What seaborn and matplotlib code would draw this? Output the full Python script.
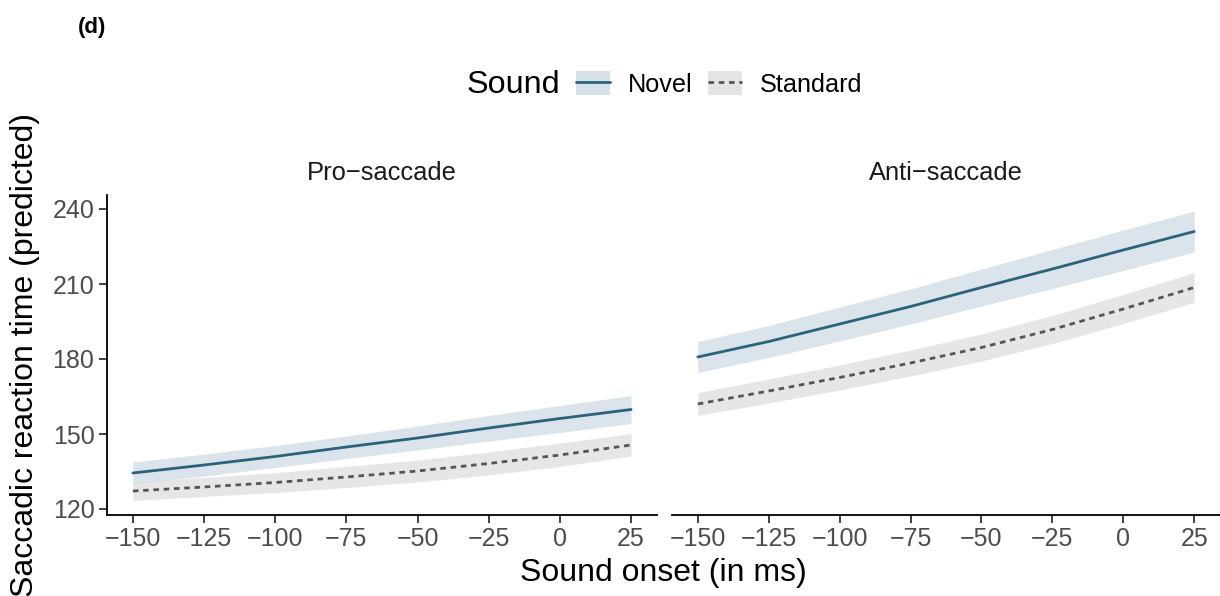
import pandas as pd
import seaborn as sns
import matplotlib.pyplot as plt
from matplotlib.patches import Patch
from matplotlib.lines import Line2D

# values
onset = [-150, -125, -100, -75, -50, -25, 0, 25]
tasks = ["Pro\u2212saccade", "Anti\u2212saccade"]

pro_novel = [134.4, 137.6, 141.0, 144.8, 148.4, 152.4, 156.2, 159.8]
pro_novel_lo = [130.0, 133.2, 136.6, 140.2, 143.6, 147.2, 150.6, 154.2]
pro_novel_hi = [138.8, 142.0, 145.4, 149.2, 153.2, 157.4, 161.4, 165.4]
pro_std = [127.2, 128.8, 130.6, 132.8, 135.2, 138.2, 141.6, 145.6]
pro_std_lo = [123.4, 125.0, 126.6, 128.6, 130.8, 133.6, 137.0, 141.2]
pro_std_hi = [131.0, 132.6, 134.6, 137.0, 139.6, 142.8, 146.4, 150.2]

anti_novel = [180.8, 187.0, 194.0, 201.0, 208.6, 216.0, 223.6, 231.0]
anti_novel_lo = [174.6, 180.6, 187.2, 194.0, 201.2, 208.2, 215.4, 222.8]
anti_novel_hi = [187.0, 193.4, 200.8, 208.0, 216.0, 223.8, 231.6, 239.2]
anti_std = [162.0, 167.2, 172.6, 178.4, 184.6, 191.8, 200.0, 208.6]
anti_std_lo = [157.4, 162.4, 167.6, 173.2, 179.2, 186.2, 194.2, 202.6]
anti_std_hi = [166.6, 172.0, 177.6, 183.6, 190.0, 197.4, 205.8, 214.6]

sounds = ["Novel", "Standard"]
line_colors = {"Novel": "#2b637c", "Standard": "#555555"}
fill_colors = {"Novel": "#d6e2e8", "Standard": "#e4e4e4"}

rows = []
panel_data = {
    tasks[0]: {"Novel": (pro_novel, pro_novel_lo, pro_novel_hi),
               "Standard": (pro_std, pro_std_lo, pro_std_hi)},
    tasks[1]: {"Novel": (anti_novel, anti_novel_lo, anti_novel_hi),
               "Standard": (anti_std, anti_std_lo, anti_std_hi)},
}
for task in tasks:
    for s in sounds:
        fit, lo, hi = panel_data[task][s]
        for x, f, l, h in zip(onset, fit, lo, hi):
            rows.append({"task": task, "Sound": s, "onset": x, "fit": f, "lo": l, "hi": h})
df = pd.DataFrame(rows)

sns.set_theme(style="ticks")
plt.rcParams["font.family"] = ["Liberation Sans", "DejaVu Sans"]
plt.rcParams["text.color"] = "black"

W, H = 1220, 596
fig = plt.figure(figsize=(W / 100, H / 100), dpi=100)
ax_l = fig.add_axes([107 / W, 1 - 515 / H, 550 / W, 320 / H])
ax_r = fig.add_axes([672 / W, 1 - 515 / H, 548 / W, 320 / H])

for ax, task in zip([ax_l, ax_r], tasks):
    sub = df[df["task"] == task]
    # ribbons first: standard then novel on top
    for s in ["Standard", "Novel"]:
        d = sub[sub["Sound"] == s]
        ax.fill_between(d["onset"], d["lo"], d["hi"], color=fill_colors[s],
                        alpha=0.9, lw=0)
    sns.lineplot(data=sub, x="onset", y="fit", hue="Sound", style="Sound",
                 palette=line_colors, dashes={"Novel": "", "Standard": (2.0, 1.7)},
                 linewidth=2.0, legend=False, ax=ax)
    ax.set_xlim(-159.1, 34.1)
    ax.set_ylim(117.6, 245.6)
    ax.set_xticks(onset)
    ax.set_yticks([120, 150, 180, 210, 240])
    ax.set_xlabel("")
    ax.set_ylabel("")
    ax.set_title(task, fontsize=18.4, pad=11, color="#1a1a1a")
    ax.tick_params(labelsize=18, labelcolor="#4d4d4d", length=6, width=1.3,
                   color="#333333", pad=3)
    for side in ["top", "right"]:
        ax.spines[side].set_visible(False)
    for side in ["left", "bottom"]:
        ax.spines[side].set_linewidth(1.3)
        ax.spines[side].set_color("black")

ax_r.spines["left"].set_visible(False)
ax_r.tick_params(axis="y", left=False, labelleft=False)

fig.text(25 / W, 1 - 355 / H, "Saccadic reaction time (predicted)", rotation=90,
         ha="center", va="center", fontsize=23, color="black")
fig.text(663 / W, 1 - 573 / H, "Sound onset (in ms)", ha="center", va="center",
         fontsize=23, color="black")
fig.text(78 / W, 1 - 27 / H, "(d)", ha="left", va="center", fontsize=16,
         fontweight="bold", color="black")

# legend
fig.text(467 / W, 1 - 85 / H, "Sound", ha="left", va="center", fontsize=23.3,
         color="black")
handles = []
for s in sounds:
    patch = Patch(facecolor=fill_colors[s], edgecolor="none")
    line = Line2D([], [], color=line_colors[s], lw=2.0,
                  linestyle="-" if s == "Novel" else (0, (2.0, 1.7)))
    handles.append((patch, line))
fig.legend(handles, sounds, loc="center left", bbox_to_anchor=(576 / W, 1 - 84 / H),
           ncol=2, frameon=False, fontsize=18.2, handlelength=1.35, handleheight=1.1,
           handletextpad=0.7, columnspacing=0.6, borderaxespad=0, borderpad=0,
           labelcolor="black")

fig.savefig("out.png", dpi=100)
